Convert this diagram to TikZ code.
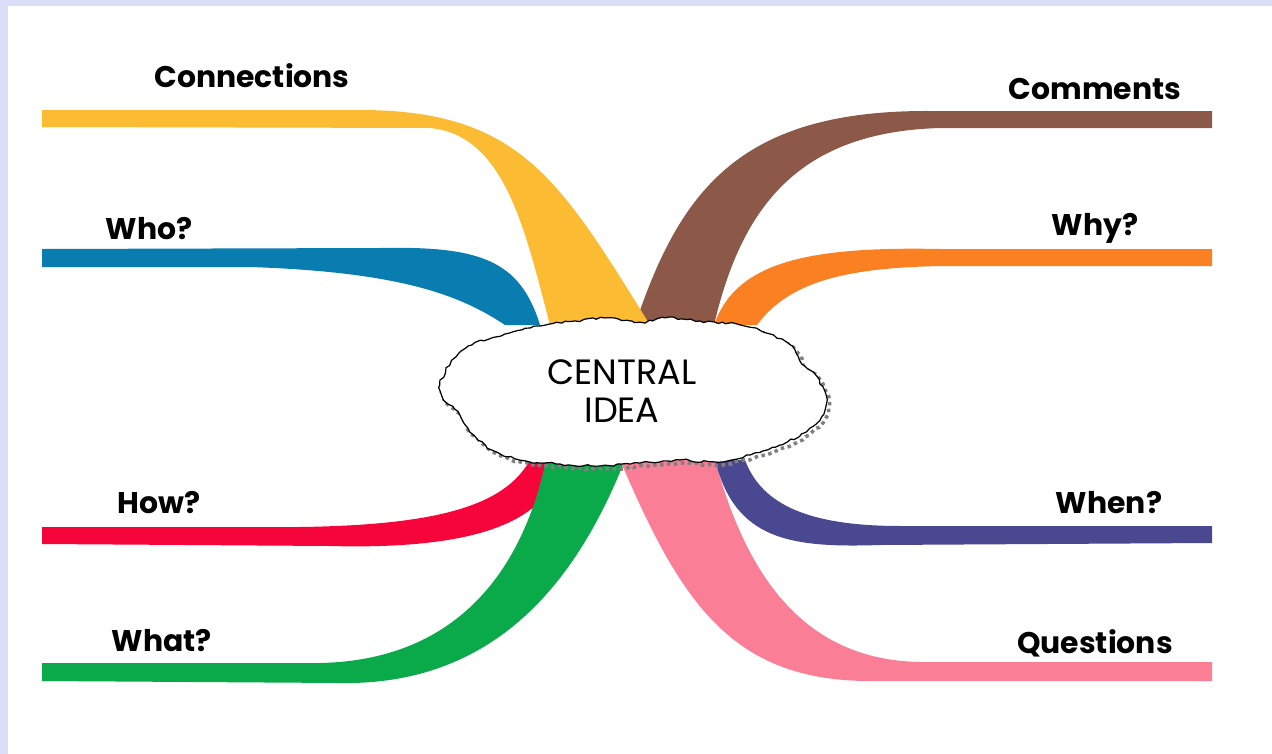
\documentclass[tikz,border=0pt]{standalone}
\usepackage{fontspec}
\setmainfont{Poppins}
\usetikzlibrary{decorations.pathmorphing}
\definecolor{lav}{RGB}{218,223,247}
\definecolor{cyellow}{RGB}{251,188,52}
\definecolor{cbrown}{RGB}{140,88,72}
\definecolor{corange}{RGB}{250,128,33}
\definecolor{cblue}{RGB}{10,125,176}
\definecolor{cred}{RGB}{245,5,58}
\definecolor{cgreen}{RGB}{10,170,74}
\definecolor{cpink}{RGB}{250,126,150}
\definecolor{cpurple}{RGB}{74,72,144}
\begin{document}
\begin{tikzpicture}[x=0.02cm,y=-0.02cm,
    lbl/.style={font=\fontsize{17}{20}\selectfont\bfseries},
    rough/.style={decorate,decoration={random steps,segment length=2.5pt,amplitude=0.7pt}}]
\fill[lav] (0,0) rectangle (1272,754);
\fill[white] (8,6) rectangle (1272,754);
\useasboundingbox (0,0) rectangle (1272,754);
% upper branches
\fill[cblue] (42,249) -- (380,248) .. controls (480,246) and (520,260) .. (540,325)
    -- (505,325) .. controls (460,295) and (400,272) .. (250,267) -- (42,267) -- cycle;
\fill[cbrown] (1212,111) -- (930,111) .. controls (740,110) and (680,190) .. (635,325)
    -- (714,325) .. controls (742,205) and (800,132) .. (940,128) -- (1212,128) -- cycle;
\fill[cyellow] (42,110) -- (360,110) .. controls (520,110) and (560,180) .. (650,325)
    -- (550,325) .. controls (525,230) and (505,135) .. (430,128) -- (42,127) -- cycle;
\fill[corange] (1212,249) -- (940,249) .. controls (800,246) and (735,265) .. (714,325)
    -- (757,325) .. controls (790,280) and (850,268) .. (940,266) -- (1212,266) -- cycle;
% lower branches
\fill[cred] (42,527) -- (300,527) .. controls (440,525) and (505,505) .. (530,460)
    -- (560,460) .. controls (552,520) and (480,550) .. (330,546) -- (42,544) -- cycle;
\fill[cgreen] (42,663) -- (320,663) .. controls (465,660) and (525,560) .. (546,460)
    -- (625,460) .. controls (585,560) and (510,686) .. (340,683) -- (42,681) -- cycle;
\fill[cpink] (620,460) .. controls (680,600) and (730,681) .. (870,681) -- (1212,681)
    -- (1212,662) -- (920,662) .. controls (800,660) and (745,570) .. (715,460) -- cycle;
\fill[cpurple] (715,460) .. controls (735,540) and (790,548) .. (880,545) -- (1212,543)
    -- (1212,526) -- (900,526) .. controls (800,526) and (760,500) .. (745,460) -- cycle;
% cloud
\pgfmathsetseed{7}
\def\cloudline{plot[smooth cycle] coordinates {(440,385) (452,360) (472,345) (505,334)
    (540,326) (575,321) (605,318) (640,322) (665,318) (700,321) (740,325) (770,334)
    (792,346) (802,364) (816,376) (826,396) (822,416) (806,432) (780,445) (750,455)
    (718,462) (680,460) (640,463) (600,466) (560,464) (520,460) (492,450) (470,432)
    (458,412) (444,400)}}
\draw[gray, line width=2pt, dotted, rough, shift={(3,3)}] \cloudline;
\draw[fill=white, line width=0.7pt, rough] \cloudline;
\node[align=center, font=\fontsize{20}{21.5}\selectfont] (idea) at (622,391) {CENTRAL\\IDEA};
% labels
\foreach \nm/\x/\y/\txt in {conn/252/76/Connections, who/149/229/Who?, how/159/503/How?,
    what/162/641/What?, comm/1095/89/Comments, why/1095/228/Why?, when/1109/503/When?,
    ques/1095/643/Questions}
  \node[lbl] (\nm) at (\x,\y) {\txt};
\end{tikzpicture}
\end{document}
